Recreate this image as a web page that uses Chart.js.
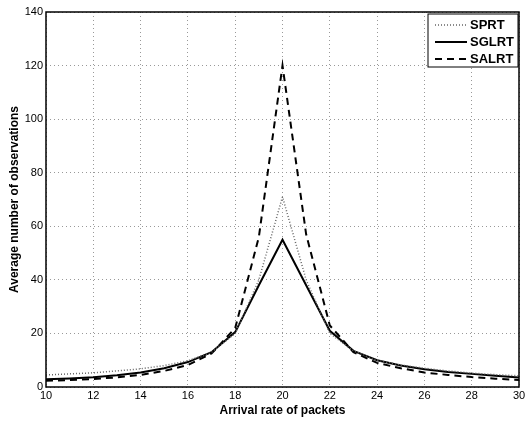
<!DOCTYPE html>
<html>
<head>
<meta charset="utf-8">
<script src="https://cdn.jsdelivr.net/npm/chart.js@4"></script>
<style>
  html, body { margin: 0; padding: 0; background: #fff; }
  #wrap { width: 528px; height: 421px; }
</style>
</head>
<body>
<div id="wrap"><canvas id="chart" width="528" height="421"></canvas></div>
<script>
const arrivalRates = [10, 11, 12, 13, 14, 15, 16, 17, 18, 19, 20, 21, 22, 23, 24, 25, 26, 27, 28, 29, 30];
const sprtValues = [4.5, 4.9, 5.3, 6.0, 6.8, 8.0, 9.8, 13, 20, 40, 71, 40, 20, 13.5, 10, 8.2, 7, 6, 5.2, 4.6, 4.2];
const sglrtValues = [2.9, 3.2, 3.6, 4.4, 5.4, 7, 9.3, 13, 20.5, 38, 55, 38, 21, 13.5, 10, 8, 6.6, 5.6, 4.9, 4.2, 3.5];
const salrtValues = [2.3, 2.6, 3.0, 3.6, 4.5, 6, 8.2, 12.5, 22, 56, 120, 57, 23, 13, 9, 7, 5.4, 4.5, 3.7, 3.1, 2.6];
const xTicks = [10, 12, 14, 16, 18, 20, 22, 24, 26, 28, 30];
const yTicks = [0, 20, 40, 60, 80, 100, 120, 140];

const font = 'Liberation Sans, Arial, sans-serif';
const toPoints = (vals) => vals.map((v, i) => ({ x: arrivalRates[i], y: v }));

// box around the plot plus the legend in the top right corner
const boxAndLegend = {
    id: 'boxAndLegend',
    afterDraw(chart) {
        const ctx = chart.ctx;
        const a = chart.chartArea;
        ctx.save();
        ctx.strokeStyle = '#000';
        ctx.lineWidth = 1.5;
        ctx.setLineDash([]);
        ctx.strokeRect(a.left, a.top, a.right - a.left, a.bottom - a.top);

        const lw = 90, lh = 53;
        const lx = a.right - lw - 1, ly = a.top + 2;
        ctx.fillStyle = '#fff';
        ctx.fillRect(lx, ly, lw, lh);
        ctx.lineWidth = 1;
        ctx.strokeRect(lx, ly, lw, lh);
        ctx.font = 'bold 13px ' + font;
        ctx.textBaseline = 'middle';
        chart.data.datasets.forEach((ds, i) => {
            const y = ly + 11 + i * 17;
            ctx.strokeStyle = ds.borderColor;
            ctx.lineWidth = ds.borderWidth;
            ctx.setLineDash(ds.borderDash || []);
            ctx.beginPath();
            ctx.moveTo(lx + 7, y);
            ctx.lineTo(lx + 39, y);
            ctx.stroke();
            ctx.setLineDash([]);
            ctx.fillStyle = '#000';
            ctx.fillText(ds.label, lx + 42, y);
        });
        ctx.restore();
    }
};

new Chart(document.getElementById('chart'), {
    type: 'line',
    data: {
        datasets: [
            {
                label: 'SPRT',
                data: toPoints(sprtValues),
                borderColor: '#666',
                borderWidth: 1.5,
                borderDash: [1, 2],
                pointRadius: 0,
                tension: 0
            },
            {
                label: 'SGLRT',
                data: toPoints(sglrtValues),
                borderColor: '#000',
                borderWidth: 2,
                pointRadius: 0,
                tension: 0
            },
            {
                label: 'SALRT',
                data: toPoints(salrtValues),
                borderColor: '#000',
                borderWidth: 2,
                borderDash: [7, 5],
                pointRadius: 0,
                tension: 0
            }
        ]
    },
    options: {
        responsive: false,
        animation: false,
        layout: { padding: { top: 12, right: 9, left: 0, bottom: 0 } },
        plugins: {
            legend: { display: false },
            tooltip: { enabled: false }
        },
        scales: {
            x: {
                type: 'linear',
                min: 10,
                max: 30,
                afterBuildTicks: (scale) => { scale.ticks = xTicks.map((v) => ({ value: v })); },
                afterFit: (scale) => { scale.height = 34; },
                ticks: { color: '#000', font: { family: font, size: 11 }, padding: 2, maxRotation: 0 },
                grid: { color: '#999', drawTicks: false },
                border: { display: false, dash: [1, 3] },
                title: { display: true, text: 'Arrival rate of packets', color: '#000', font: { family: font, size: 12, weight: 'bold' }, padding: { top: 0, bottom: 3 } }
            },
            y: {
                min: 0,
                max: 140,
                afterBuildTicks: (scale) => { scale.ticks = yTicks.map((v) => ({ value: v })); },
                afterFit: (scale) => { scale.width = 46; },
                ticks: { color: '#000', font: { family: font, size: 11 }, padding: 3 },
                grid: { color: '#999', drawTicks: false },
                border: { display: false, dash: [1, 3] },
                title: { display: true, text: 'Average number of observations', color: '#000', font: { family: font, size: 12, weight: 'bold' }, padding: { top: 7, bottom: 0 } }
            }
        }
    },
    plugins: [boxAndLegend]
});
</script>
</body>
</html>
